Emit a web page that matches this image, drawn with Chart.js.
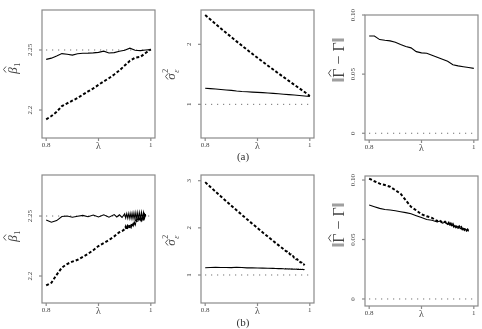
<!DOCTYPE html>
<html>
<head>
<meta charset="utf-8">
<script src="https://cdn.jsdelivr.net/npm/chart.js@4.4.1/dist/chart.umd.min.js"></script>
<style>
body { margin: 0; background: #fff; width: 482px; height: 329px; position: relative; overflow: hidden; }
canvas { position: absolute; }
.lbl { position: absolute; font-family: "Liberation Serif", "DejaVu Serif", serif; font-size: 11px; color: #333; transform: translateX(-50%); }
</style>
</head>
<body>
<canvas id="p1" width="160" height="152" style="left:0;top:0"></canvas>
<canvas id="p2" width="165" height="152" style="left:160px;top:0"></canvas>
<canvas id="p3" width="157" height="152" style="left:325px;top:0"></canvas>
<canvas id="p4" width="160" height="167" style="left:0;top:162px"></canvas>
<canvas id="p5" width="165" height="167" style="left:160px;top:162px"></canvas>
<canvas id="p6" width="157" height="167" style="left:325px;top:162px"></canvas>
<div class="lbl" style="left:243px;top:150px">(a)</div>
<div class="lbl" style="left:243px;top:316px">(b)</div>
<script>
// Valeurs de lambda (ligne a et ligne b)
const lambdaA = [0.80, 0.81, 0.82, 0.83, 0.84, 0.85, 0.86, 0.87, 0.88, 0.89, 0.90,
                 0.91, 0.92, 0.93, 0.94, 0.95, 0.96, 0.97, 0.98, 0.99, 1.00];
const lambdaB = [0.80, 0.81, 0.82, 0.83, 0.84, 0.85, 0.86, 0.87, 0.88, 0.89, 0.90,
                 0.91, 0.92, 0.93, 0.935, 0.94, 0.945, 0.95, 0.952, 0.954, 0.956,
                 0.958, 0.960, 0.962, 0.964, 0.966, 0.968, 0.970, 0.972, 0.974,
                 0.976, 0.978, 0.980, 0.982, 0.984, 0.986, 0.988, 0.990];

// (a) beta1
const betaSolidA = [2.2422, 2.2432, 2.2450, 2.2470, 2.2465, 2.2457, 2.2468, 2.2473, 2.2474, 2.2476, 2.2480,
                    2.2490, 2.2475, 2.2478, 2.2490, 2.2498, 2.2515, 2.2498, 2.2495, 2.2500, 2.2503];
const betaDashA = [2.1922, 2.1950, 2.1985, 2.2033, 2.2055, 2.2078, 2.2100, 2.2128, 2.2155, 2.2180, 2.2210,
                   2.2238, 2.2265, 2.2296, 2.2330, 2.2370, 2.2410, 2.2436, 2.2442, 2.2475, 2.2505];
// (a) sigma2
const sigmaSolidA = [1.267, 1.262, 1.255, 1.248, 1.240, 1.232, 1.222, 1.214, 1.210, 1.204, 1.199,
                     1.195, 1.190, 1.183, 1.176, 1.169, 1.162, 1.155, 1.148, 1.140, 1.130];
const sigmaDashA = [2.490, 2.414, 2.339, 2.265, 2.192, 2.120, 2.049, 1.979, 1.910, 1.842, 1.775,
                    1.709, 1.644, 1.580, 1.516, 1.453, 1.390, 1.328, 1.266, 1.205, 1.140];
// (a) norme Gamma
const gammaSolidA = [0.0823, 0.0823, 0.0792, 0.0786, 0.0781, 0.0770, 0.0750, 0.0733, 0.0722, 0.0690, 0.0680,
                     0.0676, 0.0660, 0.0643, 0.0626, 0.0608, 0.0580, 0.0570, 0.0563, 0.0556, 0.0549];

// (b) beta1
const betaSolidB = [2.2466, 2.2448, 2.2462, 2.2496, 2.2500, 2.2490, 2.2498, 2.2505, 2.2494, 2.2508, 2.2492,
                    2.2510, 2.2490, 2.2512, 2.2492, 2.2510, 2.2488, 2.2518, 2.2484, 2.2520, 2.2482,
                    2.2522, 2.2480, 2.2524, 2.2478, 2.2526, 2.2476, 2.2528, 2.2474, 2.2530, 2.2476,
                    2.2530, 2.2475, 2.2532, 2.2478, 2.2530, 2.2480, 2.2515];
const betaDashB = [2.1921, 2.1944, 2.2010, 2.2070, 2.2100, 2.2120, 2.2135, 2.2160, 2.2185, 2.2215, 2.2250,
                   2.2275, 2.2300, 2.2330, 2.2350, 2.2365, 2.2375, 2.2390, 2.2410, 2.2385, 2.2415,
                   2.2400, 2.2425, 2.2410, 2.2440, 2.2425, 2.2455, 2.2435, 2.2465, 2.2450, 2.2480,
                   2.2460, 2.2490, 2.2470, 2.2500, 2.2480, 2.2510, 2.2495];
// (b) sigma2
const sigmaSolidB = [1.155, 1.160, 1.162, 1.158, 1.160, 1.157, 1.165, 1.160, 1.152, 1.150, 1.148,
                     1.145, 1.142, 1.140, 1.138, 1.136, 1.135, 1.133, 1.128, 1.134, 1.127,
                     1.132, 1.125, 1.131, 1.124, 1.129, 1.122, 1.128, 1.121, 1.126, 1.119,
                     1.125, 1.118, 1.123, 1.116, 1.121, 1.114, 1.118];
const sigmaDashB = [2.970, 2.868, 2.767, 2.667, 2.568, 2.470, 2.373, 2.277, 2.182, 2.088, 1.995,
                    1.903, 1.812, 1.722, 1.678, 1.634, 1.590, 1.547, 1.535, 1.508, 1.500,
                    1.470, 1.468, 1.437, 1.435, 1.403, 1.401, 1.369, 1.367, 1.335, 1.333,
                    1.301, 1.299, 1.267, 1.265, 1.233, 1.231, 1.207];
// (b) norme Gamma
const gammaSolidB = [0.0790, 0.0776, 0.0762, 0.0752, 0.0748, 0.0742, 0.0734, 0.0726, 0.0716, 0.0700, 0.0685,
                     0.0668, 0.0662, 0.0648, 0.0655, 0.0638, 0.0645, 0.0626, 0.0634, 0.0620, 0.0629,
                     0.0614, 0.0623, 0.0608, 0.0617, 0.0602, 0.0611, 0.0597, 0.0605, 0.0591, 0.0599,
                     0.0585, 0.0593, 0.0580, 0.0587, 0.0574, 0.0581, 0.0568];
const gammaDashB = [0.1012, 0.0990, 0.0970, 0.0958, 0.0944, 0.0915, 0.0885, 0.0830, 0.0775, 0.0745, 0.0712,
                    0.0695, 0.0682, 0.0655, 0.0662, 0.0640, 0.0650, 0.0628, 0.0640, 0.0622, 0.0634,
                    0.0616, 0.0628, 0.0610, 0.0622, 0.0605, 0.0616, 0.0600, 0.0610, 0.0594, 0.0604,
                    0.0588, 0.0598, 0.0582, 0.0591, 0.0576, 0.0584, 0.0570];

// Valeurs vraies (lignes pointillées) et graduations
const betaTrue = 2.25;
const sigmaTrue = 1;
const gammaTrue = 0;
const xTicks = [0.8, 0.9, 1];
const xTickLabels = ['0.8', 'λ', '1'];
const betaTicks = [2.2, 2.25];
const betaTickLabels = ['2.2', '2.25'];
const sigmaTicksA = [1, 2];
const sigmaTicksB = [1, 2, 3];
const gammaTicks = [0, 0.05, 0.10];
const gammaTickLabels = ['0', '0.05', '0.10'];

const SERIF = '"Liberation Serif", "DejaVu Serif", serif';

// Petit chapeau au-dessus d'une lettre (repère tourné)
function hat(ctx, cx, top, w) {
    ctx.beginPath();
    ctx.moveTo(cx - w / 2, top);
    ctx.lineTo(cx, top - 2.5);
    ctx.lineTo(cx + w / 2, top);
    ctx.lineWidth = 0.9;
    ctx.strokeStyle = '#444';
    ctx.stroke();
}

// Dessine le titre vertical de l'axe y
function drawTitle(ctx, kind, x, y) {
    ctx.save();
    ctx.translate(x, y);
    ctx.rotate(-Math.PI / 2);
    ctx.fillStyle = '#444';
    ctx.textAlign = 'left';
    ctx.textBaseline = 'alphabetic';
    if (kind === 'beta') {
        ctx.font = 'italic 13px ' + SERIF;
        const w1 = ctx.measureText('β').width;
        const total = w1 + 5;
        const x0 = -total / 2;
        ctx.fillText('β', x0, 4);
        hat(ctx, x0 + w1 / 2 + 1, -7, 6);
        ctx.font = '8px ' + SERIF;
        ctx.fillText('1', x0 + w1 + 0.5, 7);
    } else if (kind === 'sigma') {
        ctx.font = 'italic 13px ' + SERIF;
        const w1 = ctx.measureText('σ').width;
        const total = w1 + 5;
        const x0 = -total / 2;
        ctx.fillText('σ', x0, 4);
        hat(ctx, x0 + w1 / 2, -3, 6);
        ctx.font = '8px ' + SERIF;
        ctx.fillText('2', x0 + w1 + 0.5, -3);
        ctx.font = 'italic 8px ' + SERIF;
        ctx.fillText('ε', x0 + w1 + 0.5, 8);
    } else {
        ctx.font = '16px ' + SERIF;
        const parts = ['‖', 'Γ', ' − ', 'Γ', '‖'];
        const widths = parts.map(p => ctx.measureText(p).width);
        const total = widths.reduce((a, b) => a + b, 0);
        let cx = -total / 2;
        parts.forEach((p, i) => {
            ctx.fillText(p, cx, 5);
            if (i === 1) hat(ctx, cx + widths[i] / 2, -8, 7);
            cx += widths[i];
        });
    }
    ctx.restore();
}

// Plugin pour le cadre, les graduations et les titres
const cadrePlugin = {
    id: 'cadre',
    afterDraw(chart, args, opts) {
        const ctx = chart.ctx;
        const area = chart.chartArea;
        const xs = chart.scales.x;
        const ys = chart.scales.y;
        ctx.save();
        ctx.strokeStyle = '#8a8a8a';
        ctx.lineWidth = 1.2;
        ctx.strokeRect(area.left, area.top, area.right - area.left, area.bottom - area.top);

        // Axe x
        ctx.fillStyle = '#444';
        ctx.textAlign = 'center';
        ctx.textBaseline = 'top';
        xTicks.forEach((v, i) => {
            const px = xs.getPixelForValue(v);
            ctx.beginPath();
            ctx.moveTo(px, area.bottom);
            ctx.lineTo(px, area.bottom + 3);
            ctx.stroke();
            ctx.font = (i === 1 ? '10px ' : '7px ') + SERIF;
            ctx.fillText(xTickLabels[i], px, area.bottom + (i === 1 ? 3 : 4));
        });

        // Axe y (étiquettes verticales)
        opts.yTicks.forEach((v, i) => {
            const py = ys.getPixelForValue(v);
            ctx.beginPath();
            ctx.moveTo(area.left, py);
            ctx.lineTo(area.left - 3, py);
            ctx.stroke();
            ctx.save();
            ctx.translate(area.left - 8, py);
            ctx.rotate(-Math.PI / 2);
            ctx.font = '7px ' + SERIF;
            ctx.textAlign = 'center';
            ctx.textBaseline = 'bottom';
            ctx.fillText(opts.yLabels[i], 0, 0);
            ctx.restore();
        });
        ctx.restore();
        drawTitle(ctx, opts.title, opts.titleX, opts.titleY);
    }
};

function toPoints(xs, ys) {
    return xs.map((x, i) => ({ x: x, y: ys[i] }));
}

function solid(xs, ys) {
    return { data: toPoints(xs, ys), borderColor: '#000', borderWidth: 1.1, pointRadius: 0, tension: 0 };
}

function dashed(xs, ys) {
    return { data: toPoints(xs, ys), borderColor: '#000', borderWidth: 2, borderDash: [3, 2], pointRadius: 0, tension: 0 };
}

function reference(v) {
    return { data: [{ x: 0.8, y: v }, { x: 1, y: v }], borderColor: '#555', borderWidth: 1, borderDash: [1, 5], pointRadius: 0 };
}

// Création d'un panneau
function createPanel(id, datasets, yMin, yMax, pad, axis) {
    new Chart(document.getElementById(id), {
        type: 'line',
        data: { datasets: datasets },
        options: {
            responsive: false,
            animation: false,
            events: [],
            layout: { padding: pad },
            scales: {
                x: { type: 'linear', min: 0.792, max: 1.008, display: false },
                y: { type: 'linear', min: yMin, max: yMax, display: false }
            },
            plugins: {
                legend: { display: false },
                tooltip: { enabled: false },
                cadre: axis
            }
        },
        plugins: [cadrePlugin]
    });
}

createPanel('p1', [solid(lambdaA, betaSolidA), dashed(lambdaA, betaDashA), reference(betaTrue)],
    2.1767, 2.2833, { left: 42, top: 10, right: 5, bottom: 14 },
    { yTicks: betaTicks, yLabels: betaTickLabels, title: 'beta', titleX: 13, titleY: 68 });

createPanel('p2', [solid(lambdaA, sigmaSolidA), dashed(lambdaA, sigmaDashA), reference(sigmaTrue)],
    0.439, 2.572, { left: 41, top: 10, right: 11, bottom: 14 },
    { yTicks: sigmaTicksA, yLabels: ['1', '2'], title: 'sigma', titleX: 11, titleY: 74 });

createPanel('p3', [solid(lambdaA, gammaSolidA), reference(gammaTrue)],
    -0.0057, 0.100, { left: 40, top: 15, right: 4, bottom: 12 },
    { yTicks: gammaTicks, yLabels: gammaTickLabels, title: 'gamma', titleX: 14, titleY: 60 });

createPanel('p4', [solid(lambdaB, betaSolidB), dashed(lambdaB, betaDashB), reference(betaTrue)],
    2.1775, 2.2842, { left: 42, top: 13, right: 5, bottom: 26 },
    { yTicks: betaTicks, yLabels: betaTickLabels, title: 'beta', titleX: 13, titleY: 74 });

createPanel('p5', [solid(lambdaB, sigmaSolidB), dashed(lambdaB, sigmaDashB), reference(sigmaTrue)],
    0.406, 3.121, { left: 41, top: 13, right: 11, bottom: 26 },
    { yTicks: sigmaTicksB, yLabels: ['1', '2', '3'], title: 'sigma', titleX: 11, titleY: 78 });

createPanel('p6', [solid(lambdaB, gammaSolidB), dashed(lambdaB, gammaDashB), reference(gammaTrue)],
    -0.0059, 0.1034, { left: 40, top: 14, right: 4, bottom: 23 },
    { yTicks: gammaTicks, yLabels: gammaTickLabels, title: 'gamma', titleX: 14, titleY: 63 });
</script>
</body>
</html>
